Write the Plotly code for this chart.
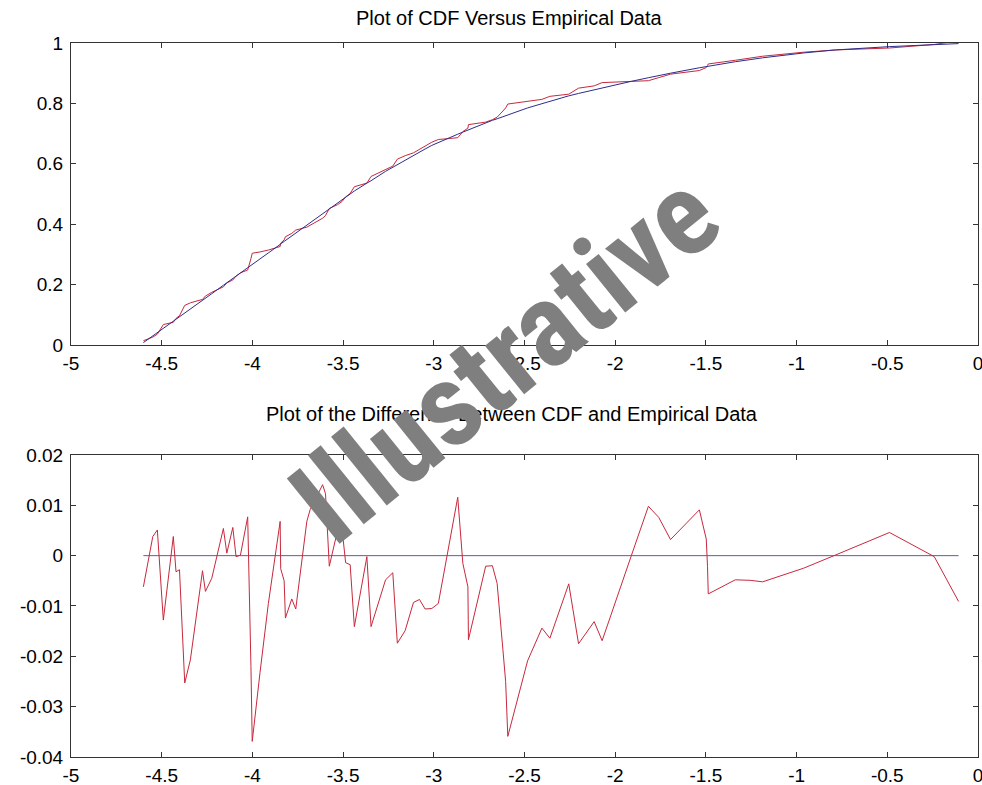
import plotly.graph_objects as go

# Sample points (x), fitted CDF at those points, and difference CDF - empirical
sample_x = [-4.601, -4.549, -4.524, -4.491, -4.436, -4.421, -4.402, -4.373, -4.342, -4.275,
            -4.259, -4.224, -4.160, -4.141, -4.108, -4.090, -4.066, -4.026, -4.008, -4.001,
            -3.958, -3.912, -3.847, -3.844, -3.825, -3.818, -3.783, -3.761, -3.700, -3.682,
            -3.613, -3.597, -3.576, -3.530, -3.504, -3.486, -3.461, -3.438, -3.369, -3.346,
            -3.266, -3.226, -3.201, -3.158, -3.112, -3.079, -3.048, -3.011, -2.975, -2.868,
            -2.840, -2.812, -2.809, -2.714, -2.677, -2.651, -2.619, -2.604, -2.592, -2.483,
            -2.404, -2.360, -2.256, -2.202, -2.116, -2.072, -1.912, -1.817, -1.760, -1.695,
            -1.536, -1.498, -1.491, -1.487, -1.338, -1.256, -1.187, -0.962, -0.787, -0.488,
            -0.241, -0.107]

cdf_vals = [0.008, 0.030, 0.041, 0.055, 0.079, 0.085, 0.094, 0.106, 0.119, 0.148,
            0.155, 0.170, 0.198, 0.206, 0.221, 0.228, 0.239, 0.256, 0.264, 0.267,
            0.285, 0.305, 0.333, 0.335, 0.343, 0.346, 0.361, 0.370, 0.397, 0.405,
            0.434, 0.441, 0.450, 0.470, 0.481, 0.489, 0.500, 0.510, 0.536, 0.544,
            0.575, 0.589, 0.598, 0.612, 0.627, 0.639, 0.649, 0.661, 0.671, 0.698,
            0.705, 0.712, 0.713, 0.736, 0.744, 0.749, 0.756, 0.760, 0.762, 0.785,
            0.799, 0.807, 0.825, 0.833, 0.845, 0.852, 0.873, 0.885, 0.893, 0.900,
            0.918, 0.922, 0.923, 0.923, 0.938, 0.945, 0.951, 0.967, 0.977, 0.988,
            0.995, 0.998]

diff_vals = [-0.0062, 0.0038, 0.0051, -0.0128, 0.0038, -0.0032, -0.0028, -0.0253, -0.0207, -0.0030,
             -0.0071, -0.0045, 0.0054, 0.0005, 0.0056, -0.0002, 0.0001, 0.0077, -0.0220, -0.0369,
             -0.0232, -0.0095, 0.0068, -0.0026, -0.0050, -0.0124, -0.0086, -0.0106, 0.0068, 0.0091,
             0.0141, 0.0123, -0.0021, 0.0051, 0.0047, -0.0014, -0.0018, -0.0141, -0.0002, -0.0141,
             -0.0048, -0.0034, -0.0174, -0.0149, -0.0093, -0.0087, -0.0106, -0.0105, -0.0095, 0.0116,
             -0.0015, -0.0062, -0.0167, -0.0021, -0.0020, -0.0055, -0.0187, -0.0250, -0.0359, -0.0209,
             -0.0144, -0.0164, -0.0056, -0.0175, -0.0131, -0.0169, -0.0001, 0.0098, 0.0076, 0.0032,
             0.0091, 0.0033, -0.0022, -0.0076, -0.0048, -0.0049, -0.0052, -0.0025, 0.0001, 0.0046,
             -0.0002, -0.0091]

empirical_vals = [c - d for c, d in zip(cdf_vals, diff_vals)]
zero_line = [0.0 for _ in sample_x]

x_ticks = [-5, -4.5, -4, -3.5, -3, -2.5, -2, -1.5, -1, -0.5, 0]
x_labels = ["-5", "-4.5", "-4", "-3.5", "-3", "-2.5", "-2", "-1.5", "-1", "-0.5", "0"]
y1_ticks = [0, 0.2, 0.4, 0.6, 0.8, 1]
y1_labels = ["0", "0.2", "0.4", "0.6", "0.8", "1"]
y2_ticks = [-0.04, -0.03, -0.02, -0.01, 0, 0.01, 0.02]
y2_labels = ["-0.04", "-0.03", "-0.02", "-0.01", "0", "0.01", "0.02"]

title_top = "Plot of CDF Versus Empirical Data"
title_bottom = "Plot of the Difference Between CDF and Empirical Data"
watermark = "Illustrative"

RED = "#c8283c"
BLUE_TOP = "#2c2c8e"
BLUE_BOT = "#5a5ab8"

fig = go.Figure()
fig.add_trace(go.Scatter(x=sample_x, y=empirical_vals, mode="lines",
                         line=dict(color=RED, width=1), xaxis="x", yaxis="y"))
fig.add_trace(go.Scatter(x=sample_x, y=cdf_vals, mode="lines",
                         line=dict(color=BLUE_TOP, width=1), xaxis="x", yaxis="y"))
fig.add_trace(go.Scatter(x=sample_x, y=zero_line, mode="lines",
                         line=dict(color=BLUE_BOT, width=1), xaxis="x2", yaxis="y2"))
fig.add_trace(go.Scatter(x=sample_x, y=diff_vals, mode="lines",
                         line=dict(color=RED, width=1), xaxis="x2", yaxis="y2"))

axis_common = dict(showgrid=False, zeroline=False, showline=True, linecolor="#333333",
                   linewidth=1, mirror="allticks", ticks="inside", ticklen=5,
                   tickcolor="#333333", ticklabeloverflow="allow", automargin=False,
                   tickfont=dict(family="Liberation Sans, Arial", size=19, color="black"))

fig.update_layout(
    width=982, height=785,
    margin=dict(l=71, r=4, t=43, b=28),
    paper_bgcolor="white", plot_bgcolor="white",
    showlegend=False,
    xaxis=dict(domain=[0, 1], anchor="y", range=[-5, 0], tickvals=x_ticks, ticktext=x_labels,
               ticklabelstandoff=1, **axis_common),
    yaxis=dict(domain=[0.577, 1], anchor="x", range=[0, 1], tickvals=y1_ticks, ticktext=y1_labels,
               ticklabelstandoff=3, **axis_common),
    xaxis2=dict(domain=[0, 1], anchor="y2", range=[-5, 0], tickvals=x_ticks, ticktext=x_labels,
                ticklabelstandoff=1, **axis_common),
    yaxis2=dict(domain=[0, 0.423], anchor="x2", range=[-0.04, 0.02], tickvals=y2_ticks, ticktext=y2_labels,
                ticklabelstandoff=3, **axis_common),
)

title_font = dict(family="Liberation Sans, Arial", size=20, color="black")
fig.add_annotation(text=title_top, xref="paper", yref="paper", x=0.484, y=1.035,
                   xanchor="center", yanchor="middle", showarrow=False, font=title_font)
fig.add_annotation(text=title_bottom, xref="paper", yref="paper", x=0.486, y=0.4804,
                   xanchor="center", yanchor="middle", showarrow=False, font=title_font)
fig.add_annotation(text=watermark, xref="paper", yref="paper", x=0.479, y=0.559,
                   xanchor="center", yanchor="middle", showarrow=False, textangle=-39,
                   font=dict(family="Roboto Condensed, DejaVu Sans Condensed, Liberation Sans",
                             size=118, color="#7f7f7f", weight="bold"))

fig.write_html("out.html")
